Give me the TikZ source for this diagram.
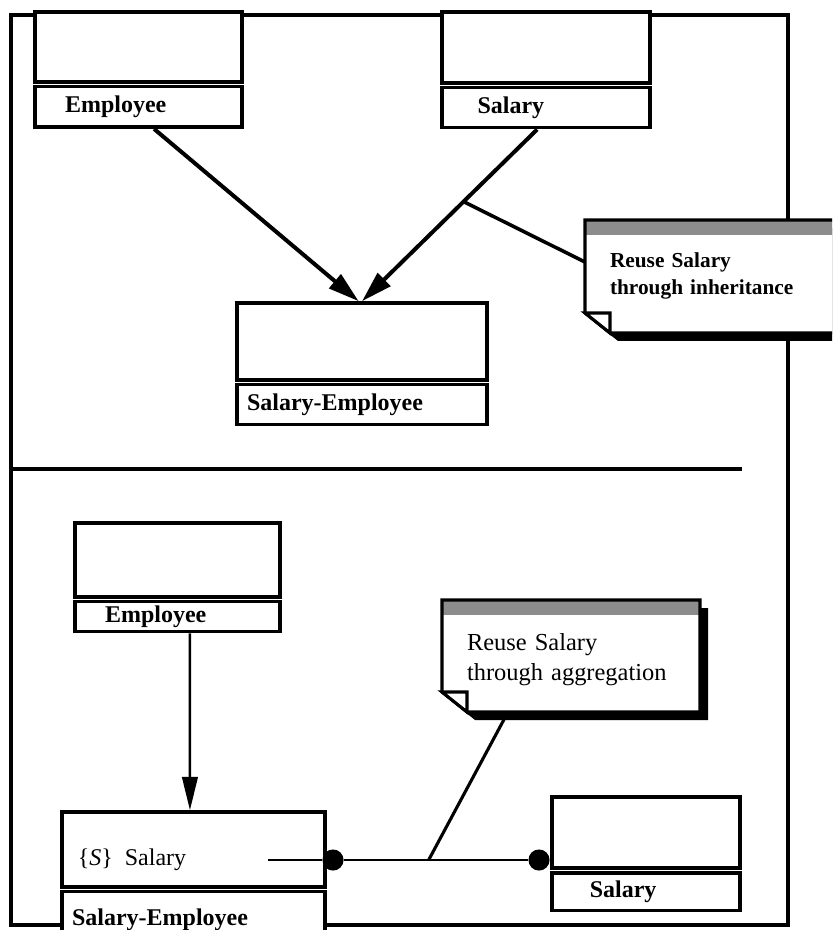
\documentclass[tikz,border=0pt]{standalone}
\usepackage{fontspec}
\setmainfont{Liberation Serif}
\usetikzlibrary{positioning,arrows.meta}

\begin{document}
\begin{tikzpicture}[x=0.45pt,y=-0.45pt]
	\tikzstyle{compart}=[draw=black,fill=white,line width=1.6pt]
	\tikzstyle{clsname}=[compart,inner xsep=0pt,inner ysep=1pt,align=left,font=\bfseries\fontsize{10.8}{12}\selectfont]
	\tikzstyle{inh}=[line width=1.8pt,-{Triangle[length=14pt,width=8pt]}]
	\tikzstyle{uses}=[line width=1.1pt,-{Triangle[length=15pt,width=7pt]}]
	\tikzstyle{dot}=[circle,fill=black,inner sep=0pt,minimum size=9.5pt]
	\tikzstyle{notebox}=[inner sep=0pt,outer sep=0pt]
	\tikzstyle{notetext}=[inner xsep=11.25pt,inner ysep=0pt,align=left]
	\tikzstyle{notelink}=[line width=1.6pt]

	\clip (0,0) rectangle (832,930);
	% frame round both halves, and the rule between them
	\draw[line width=1.6pt] (11,15) rectangle (788,925);
	\draw[line width=1.6pt] (11,469) -- (742,469);

	% upper half: reuse by inheritance
	\node[compart,minimum width=93.15pt,minimum height=31.5pt] (empT) at (138.5,47) {};
	\node[clsname,text width=93.15pt,minimum height=18.2pt,below=0.5pt of empT] (empTn) {\hspace*{13.5pt}Employee};
	\node[compart,minimum width=93.6pt,minimum height=32pt] (salT) at (546,47.5) {};
	\node[clsname,text width=93.6pt,minimum height=18pt,below=0.5pt of salT] (salTn) {\hspace*{16pt}Salary};
	\node[compart,minimum width=112.5pt,minimum height=34.65pt] (seT) at (362,341.5) {};
	\node[clsname,text width=112.5pt,minimum height=18pt,below=0.5pt of seT] (seTn) {\hspace*{4.5pt}Salary-Employee};

	\draw[inh] ([xshift=7pt]empTn.south) -- ([xshift=-1.5pt]seT.north);
	\draw[inh] ([xshift=-4pt]salTn.south) -- coordinate[pos=.42] (j1) (seT.north);

	% lower half: reuse by aggregation
	\node[compart,minimum width=92.25pt,minimum height=33.3pt] (empB) at (177.5,560) {};
	\node[clsname,text width=92.25pt,minimum height=13.5pt,below=0.5pt of empB] (empBn) {\hspace*{13.5pt}Employee};
	\node[compart,minimum width=118.35pt,minimum height=33.75pt] (seB) at (193.5,849.5) {};
	\node[clsname,text width=118.35pt,minimum height=25.2pt,below=0.5pt of seB] (seBn) {\hspace*{4.5pt}Salary-Employee};
	\node[compart,minimum width=84.6pt,minimum height=32pt] (salB) at (646,832.5) {};
	\node[clsname,text width=84.6pt,minimum height=17pt,below=0.5pt of salB] (salBn) {\hspace*{17pt}Salary};

	\draw[uses] ([xshift=5.6pt]empBn.south) -- ([xshift=-1.6pt]seB.north);

	\node[anchor=west,font=\fontsize{10.8}{12}\selectfont] (attr) at (70,860) {\{\textit{S}\}\ \ Salary};
	\coordinate (attrend) at (268,860);
	\node[dot] (d1) at (333,860) {};
	\node[dot] (d2) at (539,860) {};
	\draw[line width=1.2pt] (attrend) -- (d1) -- coordinate[pos=.46] (j2) (d2);

	% notes: shadow, body with folded corner, shaded title strip
	\node[notebox,minimum width=118.35pt,minimum height=50.85pt] (n1) at (716.5,276.5) {};
	\node[notebox,minimum width=116.1pt,minimum height=50.4pt] (n2) at (571,656) {};
	\foreach \nt in {n1,n2} {
		\fill ([shift={(8,8)}]\nt.north west) -- ([shift={(8,8)}]\nt.north east) -- ([shift={(8,8)}]\nt.south east)
			-- ([shift={(33,8)}]\nt.south west) -- ([shift={(8,-12)}]\nt.south west) -- cycle;
		\fill[white] (\nt.north west) -- (\nt.north east) -- (\nt.south east)
			-- ([shift={(25,0)}]\nt.south west) -- ([shift={(0,-20)}]\nt.south west) -- cycle;
		\fill[black!45] (\nt.north west) rectangle ([shift={(0,15)}]\nt.north east);
		\draw[line width=1.4pt] (\nt.north west) -- (\nt.north east) -- (\nt.south east)
			-- ([shift={(25,0)}]\nt.south west) -- ([shift={(0,-20)}]\nt.south west) -- cycle;
		\draw[line width=1.4pt,fill=white] ([shift={(0,-20)}]\nt.south west) -- ([shift={(25,-20)}]\nt.south west)
			-- ([shift={(25,0)}]\nt.south west) -- cycle;
	}
	\node[notetext,text width=95.85pt,font=\bfseries\fontsize{9.6}{12.2}\selectfont] (n1t) at ([yshift=0.3pt]n1.center) {Reuse Salary\\through inheritance};
	\node[notetext,text width=93.6pt,font=\fontsize{11}{13.5}\selectfont] (n2t) at ([yshift=-1.6pt]n2.center) {Reuse Salary\\through aggregation};

	\draw[notelink] (j1) -- ([yshift=6.5pt]n1.west);
	\draw[notelink,line width=1.4pt] ([xshift=-28.35pt]n2.south) -- (j2);
\end{tikzpicture}
\end{document}
